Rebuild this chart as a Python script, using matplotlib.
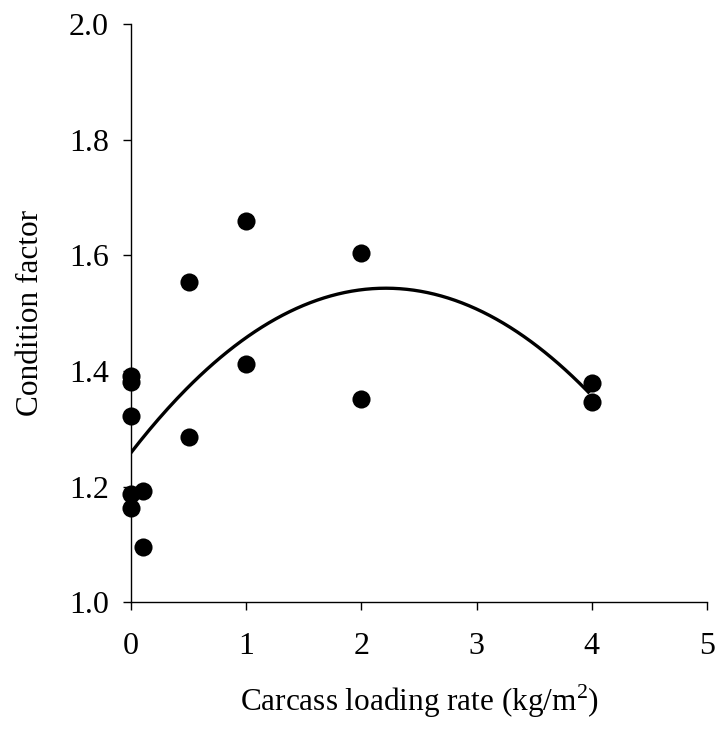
import numpy as np
import matplotlib
matplotlib.use("Agg")
import matplotlib.pyplot as plt

plt.rcParams['font.family'] = ['Liberation Serif', 'DejaVu Serif']
plt.rcParams['mathtext.fontset'] = 'custom'
plt.rcParams['mathtext.rm'] = 'Liberation Serif'

# Carcass loading rate (kg/m^2) and condition factor of each sample
loading_rate = [0, 0, 0, 0, 0, 0.1, 0.1, 0.5, 0.5, 1, 1, 2, 2, 4, 4]
condition = [1.391, 1.381, 1.323, 1.188, 1.164, 1.192, 1.096,
             1.554, 1.286, 1.659, 1.413, 1.604, 1.351, 1.379, 1.346]

# Quadratic trend line: c0 + c1*x + c2*x^2
trend_coef = [1.259, 0.257, -0.0581]
trend_range = [0, 3.97]

x_ticks = [0, 1, 2, 3, 4, 5]
y_ticks = [1.0, 1.2, 1.4, 1.6, 1.8, 2.0]

fig = plt.figure(figsize=(7.2, 7.3), dpi=100)
ax = fig.add_axes([0.182, 0.1747, 0.8, 0.7925])

ax.scatter(loading_rate, condition, s=170, color='black', zorder=3,
           clip_on=False, linewidths=0)

xs = np.linspace(trend_range[0], trend_range[1], 200)
ys = trend_coef[0] + trend_coef[1] * xs + trend_coef[2] * xs ** 2
ax.plot(xs, ys, color='black', lw=2.4, zorder=2)

ax.set_xlim(0, 5)
ax.set_ylim(1.0, 2.0)
ax.set_xticks(x_ticks)
ax.set_yticks(y_ticks)
ax.set_xticklabels([str(t) for t in x_ticks])
ax.set_yticklabels([f"{t:.1f}" for t in y_ticks])

for side in ('top', 'right'):
    ax.spines[side].set_visible(False)
for side in ('left', 'bottom'):
    ax.spines[side].set_linewidth(1.0)

ax.tick_params(direction='out', length=6, width=1.0, labelsize=23)
ax.tick_params(axis='x', pad=15)
ax.tick_params(axis='y', pad=10)

ax.set_xlabel('Carcass loading rate (kg/m$^{\\mathrm{2}}$)', fontsize=22.5,
              labelpad=16)
ax.set_ylabel('Condition factor', fontsize=22.5, labelpad=17)

fig.savefig('out.png', dpi=100)
